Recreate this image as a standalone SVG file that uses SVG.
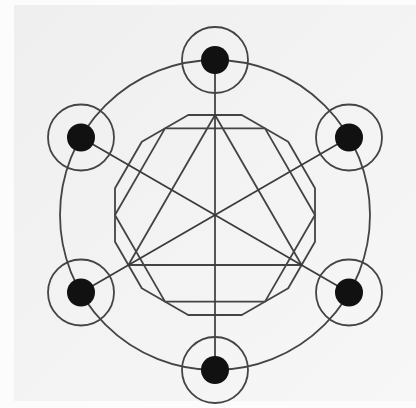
<svg xmlns="http://www.w3.org/2000/svg" width="416" height="408" viewBox="0 0 416 408">
  <defs>
    <linearGradient id="bg" x1="0" y1="0" x2="1" y2="1">
      <stop offset="0" stop-color="#efefef"/>
      <stop offset="1" stop-color="#f7f7f7"/>
    </linearGradient>
  </defs>
  <style>
    .ln { fill: none; stroke: #3a3a3a; stroke-width: 1.7; }
    .poly { fill: none; stroke: #444; stroke-width: 1.8; stroke-linejoin: round; }
    .ring { fill: none; stroke: #444; stroke-width: 1.8; }
    .dot { fill: #111; }
  </style>
  <rect width="416" height="408" fill="#fcfcfc"/>
  <rect x="14" y="5" width="402" height="396" fill="url(#bg)"/>

  <g id="figure">
    <polygon class="poly" points="315,215 265,128.4 165,128.4 115,215 165,301.6 265,301.6"/>
    <polygon class="poly" points="315,188.2 288.2,141.8 241.8,115 188.2,115 141.8,141.8 115,188.2 115,241.8 141.8,288.2 188.2,315 241.8,315 288.2,288.2 315,241.8"/>
    <polygon class="poly" points="215,115 301.6,265 128.4,265"/>
  </g>

  <g id="connectors">
    <circle class="ring" cx="215" cy="215" r="155"/>
    <line class="ln" x1="215" y1="60" x2="215" y2="370"/>
    <line class="ln" x1="81" y1="137.5" x2="349" y2="292.5"/>
    <line class="ln" x1="349" y1="137.5" x2="81" y2="292.5"/>
  </g>

  <g id="node-top">
    <circle class="ring" cx="215" cy="60" r="33"/>
    <circle class="dot" cx="215" cy="60" r="14"/>
  </g>
  <g id="node-upper-right">
    <circle class="ring" cx="349" cy="137.5" r="33"/>
    <circle class="dot" cx="349" cy="137.5" r="14"/>
  </g>
  <g id="node-lower-right">
    <circle class="ring" cx="349" cy="292.5" r="33"/>
    <circle class="dot" cx="349" cy="292.5" r="14"/>
  </g>
  <g id="node-bottom">
    <circle class="ring" cx="215" cy="370" r="33"/>
    <circle class="dot" cx="215" cy="370" r="14"/>
  </g>
  <g id="node-lower-left">
    <circle class="ring" cx="81" cy="292.5" r="33"/>
    <circle class="dot" cx="81" cy="292.5" r="14"/>
  </g>
  <g id="node-upper-left">
    <circle class="ring" cx="81" cy="137.5" r="33"/>
    <circle class="dot" cx="81" cy="137.5" r="14"/>
  </g>
</svg>
